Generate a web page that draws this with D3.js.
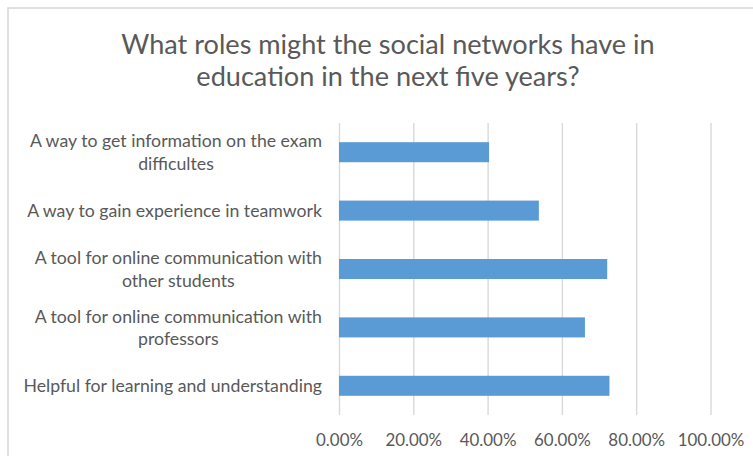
<!DOCTYPE html>
<html>
<head>
<meta charset="utf-8">
<script src="https://cdn.jsdelivr.net/npm/d3@7"></script>
<style>
  html, body { margin: 0; padding: 0; background: #fff; }
  svg { display: block; }
  text { font-family: Lato, "Open Sans", sans-serif; fill: #595959; }
</style>
</head>
<body>
<svg id="chart" width="753" height="456"></svg>
<script>
// Survey answers, top to bottom
const categories = [
  ["A way to get information on the exam", "difficultes"],
  ["A way to gain experience in teamwork"],
  ["A tool for online communication with", "other students"],
  ["A tool for online communication with", "professors"],
  ["Helpful for learning and understanding"]
];
const values = [0.404, 0.538, 0.722, 0.662, 0.728];
const tickValues = [0, 0.2, 0.4, 0.6, 0.8, 1.0];
const titleLines = [
  "What roles might the social networks have in",
  "education in the next five years?"
];

const svg = d3.select("#chart");

// chart area frame
svg.append("rect")
  .attr("x", 8).attr("y", 8)
  .attr("width", 780).attr("height", 480)
  .attr("fill", "#fff")
  .attr("stroke", "#d9d9d9").attr("stroke-width", 1.6);

const plot = { left: 339, right: 710.5, top: 123, bottom: 415 };

const x = d3.scaleLinear().domain([0, 1]).range([plot.left, plot.right]);
const y = d3.scaleBand()
  .domain(d3.range(categories.length))
  .range([plot.top, plot.bottom])
  .paddingInner(0.657)
  .paddingOuter(0.3285);

// title
svg.append("g").selectAll("text")
  .data(titleLines).join("text")
  .attr("x", 388)
  .attr("y", (d, i) => 54 + i * 31.5)
  .attr("text-anchor", "middle")
  .attr("font-size", 27.1)
  .text(d => d);

// vertical gridlines + percentage tick labels
const axis = d3.axisBottom(x)
  .tickValues(tickValues)
  .tickFormat(d3.format(".2%"))
  .tickSize(-(plot.bottom - plot.top))
  .tickPadding(0);

const gx = svg.append("g")
  .attr("transform", `translate(0,${plot.bottom})`)
  .call(axis);
gx.select(".domain").remove();
gx.selectAll(".tick line")
  .attr("stroke", "#d9d9d9")
  .attr("stroke-width", 1.4);
gx.selectAll(".tick text")
  .attr("y", 31)
  .attr("dy", 0)
  .attr("font-size", 16.9)
  .style("font-family", "Lato, 'Open Sans', sans-serif")
  .attr("fill", "#595959");

// bars
svg.append("g").selectAll("rect")
  .data(values).join("rect")
  .attr("x", x(0))
  .attr("y", (d, i) => y(i))
  .attr("width", d => x(d) - x(0))
  .attr("height", y.bandwidth())
  .attr("fill", "#5b9bd5");

// category labels: each block right-aligned, lines centred within the block
const labelRight = 322;
const lineH = 22.5;
const labels = svg.append("g");
categories.forEach((lines, i) => {
  const g = labels.append("g");
  const cy = y(i) + y.bandwidth() / 2;
  const t = g.selectAll("text").data(lines).join("text")
    .attr("font-size", 17.7)
    .attr("text-anchor", "middle")
    .attr("y", (d, k) => cy + (k - (lines.length - 1) / 2) * lineH + 6.5)
    .text(d => d);
  const w = d3.max(t.nodes(), n => n.getComputedTextLength());
  t.attr("x", labelRight - w / 2);
});
</script>
</body>
</html>
